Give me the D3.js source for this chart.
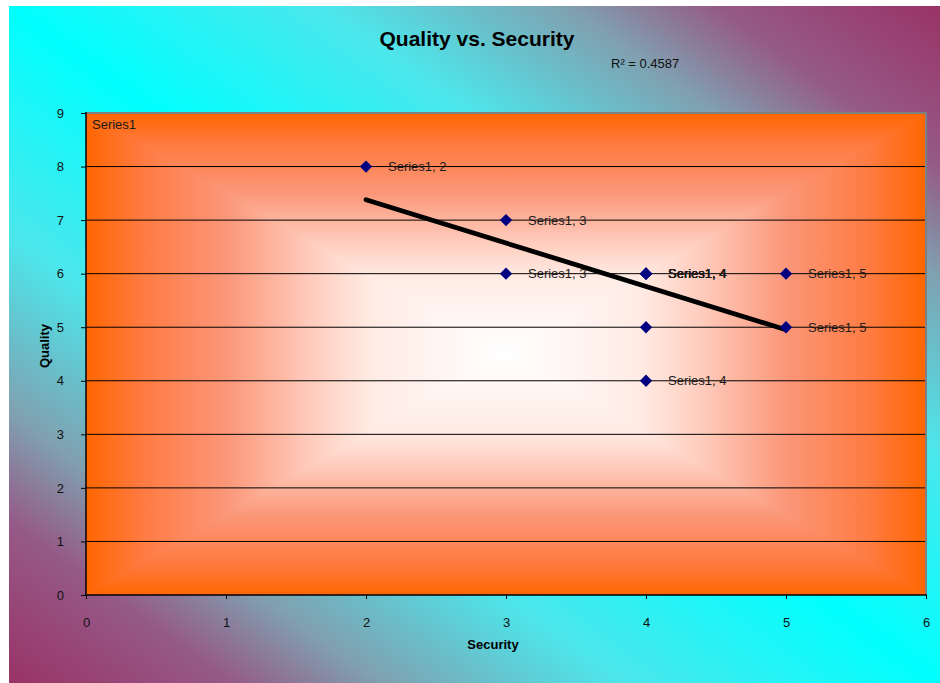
<!DOCTYPE html>
<html><head><meta charset="utf-8">
<script src="https://cdn.jsdelivr.net/npm/d3@7"></script>
<style>html,body{margin:0;padding:0;background:#fff;} svg{display:block;font-family:"Liberation Sans",Arial,sans-serif;}</style>
</head><body><svg id="chart" width="940" height="683"></svg>
<script>
// ---- data ----
const securityValues = [2, 3, 3, 4, 4, 4, 4, 4, 4, 5, 5];
const qualityValues  = [8, 7, 6, 6, 6, 6, 6, 5, 4, 6, 5];
const pointLabels = ["Series1, 2", "Series1, 3", "Series1, 3", "Series1, 4", "Series1, 4", "Series1, 4", "Series1, 4", "", "Series1, 4", "Series1, 5", "Series1, 5"];
const xTickValues = [0, 1, 2, 3, 4, 5, 6];
const yTickValues = [0, 1, 2, 3, 4, 5, 6, 7, 8, 9];
const seriesName = "Series1";
const chartTitle = "Quality vs. Security";
const xTitle = "Security";
const yTitle = "Quality";

// ---- layout ----
const L = 86, R = 926, T = 113, B = 595;
const svg = d3.select("#chart");
const defs = svg.append("defs");

const x = d3.scaleLinear().domain([0, 6]).range([L, R]);
const y = d3.scaleLinear().domain([0, 9]).range([B, T]);

// chart-area background gradient (plum corners, cyan diagonal)
const bgStops = [[0, "#993366"], [0.12, "#955a88"], [0.2, "#80a0b0"], [0.33, "#4de6eb"], [0.5, "#00ffff"],
                 [0.67, "#4de6eb"], [0.8, "#80a0b0"], [0.88, "#955a88"], [1, "#993366"]];
const bg = defs.append("linearGradient").attr("id", "bgGrad")
  .attr("x1", 1).attr("y1", 0).attr("x2", 0).attr("y2", 1);
bgStops.forEach(s => bg.append("stop").attr("offset", s[0]).attr("stop-color", s[1]));
svg.append("rect").attr("x", 9).attr("y", 6).attr("width", 931).attr("height", 677).attr("fill", "url(#bgGrad)");

// plot-area rectangular "from center" gradient
const cx = (L + R) / 2, cy = (T + B) / 2;
const plotStops = [[0, "#ff6600"], [0.13, "#ff7a40"], [0.33, "#fb9678"], [0.54, "#ffcdbe"], [0.68, "#ffebe4"], [1, "#ffffff"]];
function grad(id, x1, y1, x2, y2) {
  const g = defs.append("linearGradient").attr("id", id).attr("gradientUnits", "userSpaceOnUse")
    .attr("x1", x1).attr("y1", y1).attr("x2", x2).attr("y2", y2).attr("spreadMethod", "reflect");
  plotStops.forEach(s => g.append("stop").attr("offset", s[0]).attr("stop-color", s[1]));
}
grad("gH", L, 0, cx, 0);
grad("gT", 0, T, 0, cy);
grad("gB", 0, B, 0, cy);
svg.append("rect").attr("x", L).attr("y", T).attr("width", R - L).attr("height", B - T).attr("fill", "url(#gH)");
svg.append("path").attr("d", `M${L},${T}L${R},${T}L${cx},${cy}Z`).attr("fill", "url(#gT)");
svg.append("path").attr("d", `M${L},${B}L${R},${B}L${cx},${cy}Z`).attr("fill", "url(#gB)");

// gridlines
svg.append("g").selectAll("line").data(yTickValues.filter(v => v > 0 && v < 9)).join("line")
  .attr("x1", L).attr("x2", R).attr("y1", d => y(d)).attr("y2", d => y(d))
  .attr("stroke", "#000").attr("stroke-width", 1);

// plot border (top/right grey)
svg.append("path").attr("d", `M${L},${T}H${R}V${B}`).attr("fill", "none").attr("stroke", "#808080").attr("stroke-width", 2);

// axes
const yAxis = d3.axisLeft(y).tickValues(yTickValues).tickSize(5).tickPadding(17).tickFormat(d3.format("d"));
const gy = svg.append("g").attr("transform", `translate(${L},0)`).call(yAxis);
const xAxis = d3.axisBottom(x).tickValues(xTickValues).tickSize(4).tickPadding(19).tickFormat(d3.format("d"));
const gx = svg.append("g").attr("transform", `translate(0,${B})`).call(xAxis);
[gx, gy].forEach(g => {
  g.select(".domain").remove();
  g.selectAll(".tick line").attr("stroke", "#000");
  g.selectAll(".tick text").attr("font-size", 13).attr("fill", "#111").attr("font-family", '"Liberation Sans",Arial,sans-serif');
});
svg.append("line").attr("x1", L).attr("x2", L).attr("y1", T - 1).attr("y2", B).attr("stroke", "#000").attr("stroke-width", 1.5);
svg.append("line").attr("x1", L).attr("x2", R + 1).attr("y1", B).attr("y2", B).attr("stroke", "#000").attr("stroke-width", 1.5);

// trendline (least squares)
const n = securityValues.length;
const mx = d3.mean(securityValues), my = d3.mean(qualityValues);
let sxy = 0, sxx = 0, syy = 0;
for (let i = 0; i < n; i++) {
  const dx = securityValues[i] - mx, dy = qualityValues[i] - my;
  sxy += dx * dy; sxx += dx * dx; syy += dy * dy;
}
const slope = sxy / sxx, intercept = my - slope * mx;
const r2 = (sxy * sxy) / (sxx * syy);
const [xMin, xMax] = d3.extent(securityValues);
svg.append("line")
  .attr("x1", x(xMin)).attr("y1", y(intercept + slope * xMin))
  .attr("x2", x(xMax)).attr("y2", y(intercept + slope * xMax))
  .attr("stroke", "#000").attr("stroke-width", 4.8).attr("stroke-linecap", "round");

// points
const idx = d3.range(n);
svg.append("g").selectAll("path").data(idx).join("path")
  .attr("d", d3.symbol(d3.symbolSquare, 76)())
  .attr("transform", i => `translate(${x(securityValues[i])},${y(qualityValues[i])}) rotate(45)`)
  .attr("fill", "#000080");

// data labels
svg.append("g").selectAll("text").data(idx.filter(i => pointLabels[i])).join("text")
  .attr("x", i => x(securityValues[i]) + 22)
  .attr("y", i => y(qualityValues[i]))
  .attr("dy", "0.36em")
  .attr("font-size", 13).attr("fill", "#1a1a1a")
  .text(i => pointLabels[i]);

// legend-like series label
svg.append("text").attr("x", 92).attr("y", 129).attr("font-size", 13).attr("fill", "#1a1a1a").text(seriesName);

// titles
svg.append("text").attr("x", 477).attr("y", 46).attr("text-anchor", "middle")
  .attr("font-size", 21).attr("font-weight", "bold").attr("fill", "#000").text(chartTitle);
svg.append("text").attr("x", 611).attr("y", 68).attr("font-size", 13).attr("fill", "#111")
  .text("R\u00B2 = " + r2.toFixed(4));
svg.append("text").attr("x", 493).attr("y", 649).attr("text-anchor", "middle")
  .attr("font-size", 13).attr("font-weight", "bold").attr("fill", "#000").text(xTitle);
svg.append("text").attr("transform", "translate(49,346) rotate(-90)").attr("text-anchor", "middle")
  .attr("font-size", 13).attr("font-weight", "bold").attr("fill", "#000").text(yTitle);
</script>
</body></html>
